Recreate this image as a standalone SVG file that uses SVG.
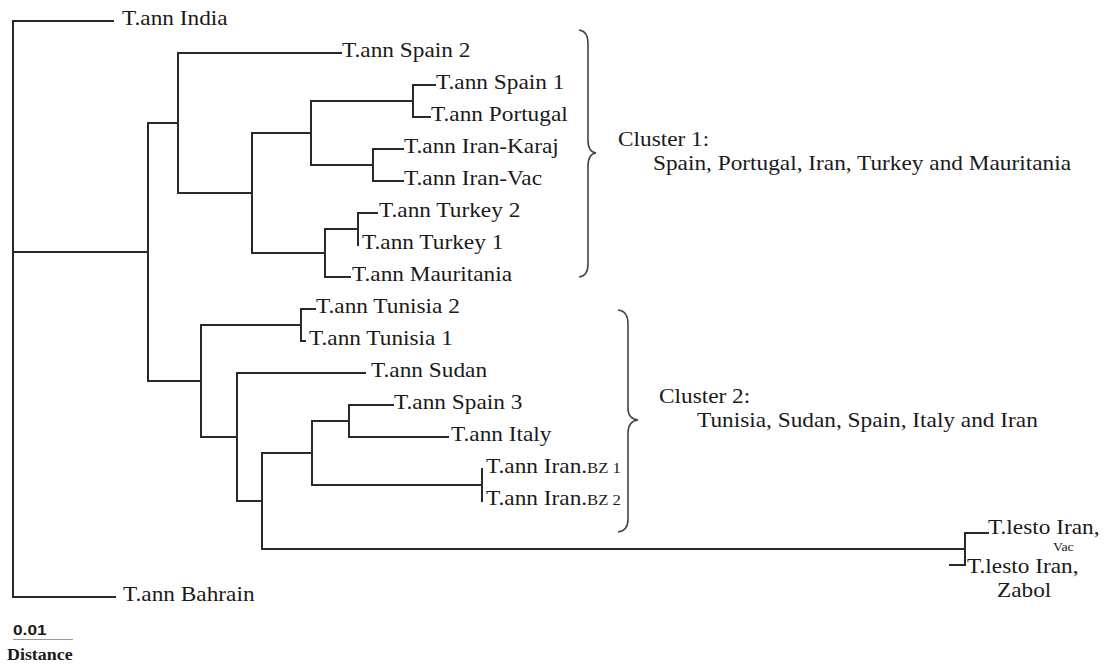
<svg xmlns="http://www.w3.org/2000/svg" width="1112" height="666" viewBox="0 0 1112 666">
<style>
.lbl{font-family:"Liberation Serif","Times New Roman",serif;font-size:21px;fill:#1a1a1a}
.sm{font-size:15px}
.xs{font-size:12.5px}
.br{fill:none;stroke:#444;stroke-width:1.6}
.tree{fill:none;stroke:#2a2a2a;stroke-width:2;stroke-linecap:square}
</style>
<rect width="1112" height="666" fill="#fff"/>
<g id="connectors" class="tree">
<path d="M13,21V597M13,21H113M13,597H115M13,252H148"/>
<path d="M148,123V381M148,123H178M178,53V193M178,53H341M178,193H252M252,133V253"/>
<path d="M252,133H311M311,101V165M311,101H413M413,85V117M413,85H435M413,117H430"/>
<path d="M311,165H373M373,149V181M373,149H403M373,181H403"/>
<path d="M252,253H325M325,229V277M325,229H358M358,213V245M358,213H377M325,277H350"/>
<path d="M148,381H201M201,325V437M201,325H301M301,309V341M301,309H315M301,341H305"/>
<path d="M201,437H237M237,373V501M237,373H365M237,501H262M262,453V549"/>
<path d="M262,453H312M312,421V485M312,421H349M349,405V437M349,405H393M349,437H448M312,485H482M482,469V501"/>
<path d="M262,549H965M965,533V565M965,533H988M950,565H965"/>
</g>
<g id="braces">
<path class="br" d="M579,30Q588,31 588,44V140Q588,152 596,153Q588,154 588,166V264Q588,276 579,277"/>
<path class="br" d="M618,310Q628,311 628,324V408Q628,419 638,420Q628,421 628,433V519Q628,531 618,532"/>
</g>
<g id="leaf-india" transform="translate(122,25) scale(1.11,1)"><text class="lbl">T.ann India</text></g>
<g id="leaf-spain2" transform="translate(342,57) scale(1.11,1)"><text class="lbl">T.ann Spain 2</text></g>
<g id="leaf-spain1" transform="translate(436,89) scale(1.11,1)"><text class="lbl">T.ann Spain 1</text></g>
<g id="leaf-portugal" transform="translate(431,121) scale(1.11,1)"><text class="lbl">T.ann Portugal</text></g>
<g id="leaf-karaj" transform="translate(404,153) scale(1.11,1)"><text class="lbl">T.ann Iran-Karaj</text></g>
<g id="leaf-iranvac" transform="translate(404,185) scale(1.11,1)"><text class="lbl">T.ann Iran-Vac</text></g>
<g id="leaf-turkey2" transform="translate(379,217) scale(1.11,1)"><text class="lbl">T.ann Turkey 2</text></g>
<g id="leaf-turkey1" transform="translate(362,249) scale(1.11,1)"><text class="lbl">T.ann Turkey 1</text></g>
<g id="leaf-mauritania" transform="translate(352,281) scale(1.11,1)"><text class="lbl">T.ann Mauritania</text></g>
<g id="leaf-tunisia2" transform="translate(316,313) scale(1.11,1)"><text class="lbl">T.ann Tunisia 2</text></g>
<g id="leaf-tunisia1" transform="translate(309,345) scale(1.11,1)"><text class="lbl">T.ann Tunisia 1</text></g>
<g id="leaf-sudan" transform="translate(371,377) scale(1.11,1)"><text class="lbl">T.ann Sudan</text></g>
<g id="leaf-spain3" transform="translate(394,409) scale(1.11,1)"><text class="lbl">T.ann Spain 3</text></g>
<g id="leaf-italy" transform="translate(451,441) scale(1.11,1)"><text class="lbl">T.ann Italy</text></g>
<g id="leaf-bz1" transform="translate(486,473) scale(1.11,1)"><text class="lbl">T.ann Iran.<tspan class="sm">BZ 1</tspan></text></g>
<g id="leaf-bz2" transform="translate(486,505) scale(1.11,1)"><text class="lbl">T.ann Iran.<tspan class="sm">BZ 2</tspan></text></g>
<g id="leaf-lesto-vac">
<g transform="translate(988,534) scale(1.11,1)"><text class="lbl">T.lesto Iran,</text></g>
<g transform="translate(1053,551) scale(1.11,1)"><text class="lbl xs">Vac</text></g>
</g>
<g id="leaf-lesto-zabol">
<g transform="translate(967,573) scale(1.11,1)"><text class="lbl">T.lesto Iran,</text></g>
<g transform="translate(997,597) scale(1.11,1)"><text class="lbl">Zabol</text></g>
</g>
<g id="leaf-bahrain" transform="translate(123,601) scale(1.11,1)"><text class="lbl">T.ann Bahrain</text></g>
<g id="cluster1">
<g transform="translate(618,146) scale(1.11,1)"><text class="lbl">Cluster 1:</text></g>
<g transform="translate(653,170) scale(1.11,1)"><text class="lbl">Spain, Portugal, Iran, Turkey and Mauritania</text></g>
</g>
<g id="cluster2">
<g transform="translate(659,403) scale(1.11,1)"><text class="lbl">Cluster 2:</text></g>
<g transform="translate(697,427) scale(1.11,1)"><text class="lbl">Tunisia, Sudan, Spain, Italy and Iran</text></g>
</g>
<g id="scale-bar">
<g transform="translate(13,635) scale(1.15,1)"><text style="font-family:'Liberation Sans',Arial,sans-serif;font-weight:bold;font-size:15px;fill:#1a1a1a">0.01</text></g>
<line x1="13" y1="639.5" x2="73" y2="639.5" stroke="#999" stroke-width="1"/>
<g transform="translate(7,660) scale(1.12,1)"><text style="font-family:'Liberation Serif','Times New Roman',serif;font-weight:bold;font-size:16px;fill:#1a1a1a">Distance</text></g>
</g>
</svg>
